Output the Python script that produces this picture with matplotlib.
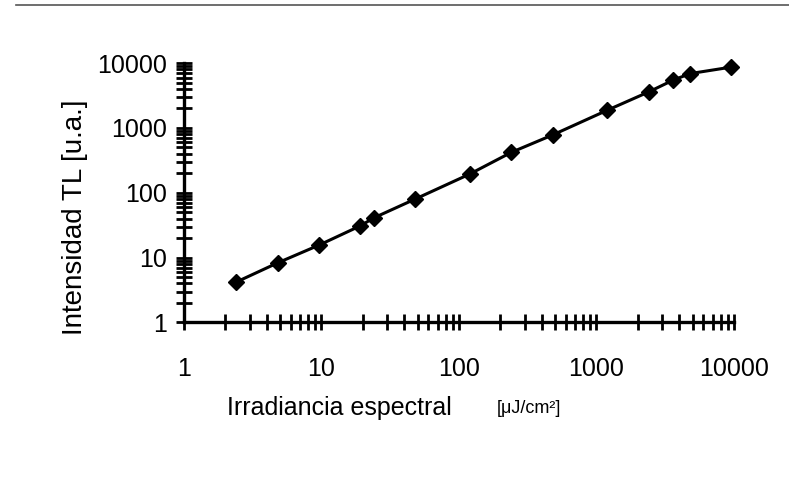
import matplotlib.pyplot as plt
from matplotlib.ticker import LogLocator, FixedLocator, NullFormatter
from matplotlib.lines import Line2D

plt.rcParams['font.family'] = ['Liberation Sans', 'DejaVu Sans']

# irradiancia espectral [uJ/cm2] vs intensidad TL [u.a.]
irradiancia = [2.4, 4.8, 9.6, 19.2, 24, 48, 120, 240, 480, 1200, 2400, 3600, 4800, 9600]
intensidad = [4.2, 8.3, 15.6, 31, 41, 80, 195, 420, 780, 1880, 3600, 5450, 6900, 8700]
decadas = [1, 10, 100, 1000, 10000]
etiquetas = ['1', '10', '100', '1000', '10000']

fig = plt.figure(figsize=(7.89, 4.82), dpi=100)
ax = fig.add_axes([0.2332, 0.331, 0.697, 0.538])

ax.plot(irradiancia, intensidad, color='black', lw=2.2, marker='D',
        markersize=8, clip_on=False, zorder=3)

ax.set_xscale('log')
ax.set_yscale('log')
ax.set_xlim(1, 10000)
ax.set_ylim(1, 10000)

for s in ['top', 'right']:
    ax.spines[s].set_visible(False)
for s in ['left', 'bottom']:
    ax.spines[s].set_linewidth(2.4)

ax.xaxis.set_major_locator(FixedLocator(decadas))
ax.yaxis.set_major_locator(FixedLocator(decadas))
ax.set_xticklabels(etiquetas, fontsize=18)
ax.set_yticklabels(etiquetas, fontsize=18)
ax.xaxis.set_minor_locator(LogLocator(base=10, subs=range(2, 10), numticks=20))
ax.yaxis.set_minor_locator(LogLocator(base=10, subs=range(2, 10), numticks=20))
ax.xaxis.set_minor_formatter(NullFormatter())
ax.yaxis.set_minor_formatter(NullFormatter())

ax.tick_params(which='both', direction='inout', length=12, width=2, color='black')
ax.tick_params(axis='x', which='major', pad=19)
ax.tick_params(axis='y', which='major', pad=6)

fig.text(0.095, 0.55, 'Intensidad TL [u.a.]', fontsize=20, rotation=90,
         va='center', ha='center')
fig.text(0.288, 0.153, 'Irradiancia espectral', fontsize=18,
         va='center', ha='left')
fig.text(0.630, 0.153, '[μJ/cm²]', fontsize=13,
         va='center', ha='left')

# borde superior del escaneo
fig.add_artist(Line2D([0.02, 1.0], [0.99, 0.99], color='#555555', lw=1.2))

fig.savefig('out.png', dpi=100, facecolor='white')
